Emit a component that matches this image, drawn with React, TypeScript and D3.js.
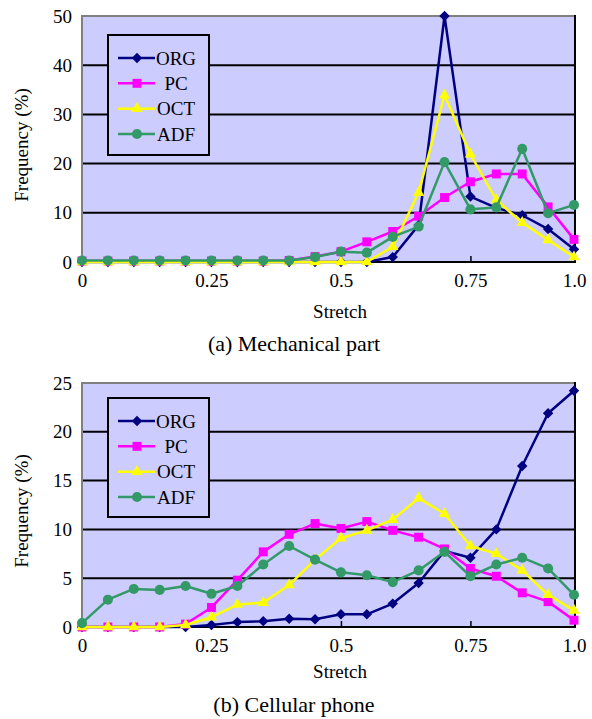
import React, { useEffect, useRef } from "react";
import * as d3 from "d3";

// stretch categories (20 bins), the last bin is labelled "1.0" on the axis
const stretch = [0, 0.05, 0.1, 0.15, 0.2, 0.25, 0.3, 0.35, 0.4, 0.45, 0.5, 0.55, 0.6, 0.65, 0.7, 0.75, 0.8, 0.85, 0.9, 0.95];
const xTickValues = [0, 0.25, 0.5, 0.75, 0.95];
const xTickLabels = ["0", "0.25", "0.5", "0.75", "1.0"];

const seriesNames = ["ORG", "PC", "OCT", "ADF"];
const seriesColors = ["#000080", "#ff00ff", "#ffff00", "#339966"];
const seriesMarkers = ["diamond", "square", "triangle", "circle"];

// (a) Mechanical part
const mechORG = [0, 0, 0, 0, 0, 0, 0, 0, 0, 0, 0, 0, 1.0, 7.5, 50, 13.3, 11.0, 9.5, 6.7, 2.6];
const mechPC = [0.2, 0.2, 0.2, 0.2, 0.2, 0.2, 0.2, 0.2, 0.3, 1.1, 2.1, 4.1, 6.2, 9.3, 13.1, 16.3, 17.9, 17.9, 11.2, 4.6];
const mechOCT = [0, 0, 0, 0, 0, 0, 0, 0, 0, 0, 0, 0, 3.1, 14.1, 33.9, 21.9, 12.6, 8.0, 4.5, 1.0];
const mechADF = [0.3, 0.3, 0.3, 0.3, 0.3, 0.3, 0.3, 0.3, 0.3, 1.0, 2.1, 1.9, 5.1, 7.2, 20.3, 10.7, 11.1, 23.0, 9.9, 11.6];
const mechTicks = [0, 10, 20, 30, 40, 50];

// (b) Cellular phone
const phoneORG = [0, 0, 0, 0, 0, 0.2, 0.5, 0.6, 0.85, 0.8, 1.3, 1.3, 2.4, 4.5, 7.8, 7.1, 10.0, 16.5, 21.9, 24.2];
const phonePC = [0, 0, 0, 0, 0.3, 2.0, 4.8, 7.7, 9.5, 10.6, 10.1, 10.8, 9.9, 9.2, 8.0, 6.0, 5.2, 3.5, 2.6, 0.7];
const phoneOCT = [0, 0, 0, 0, 0.2, 1.0, 2.3, 2.5, 4.3, 6.9, 9.1, 9.9, 11.0, 13.2, 11.6, 8.3, 7.5, 5.8, 3.3, 1.7];
const phoneADF = [0.4, 2.8, 3.9, 3.8, 4.2, 3.4, 4.2, 6.4, 8.3, 6.9, 5.6, 5.3, 4.6, 5.8, 7.7, 5.2, 6.4, 7.1, 6.0, 3.3];
const phoneTicks = [0, 5, 10, 15, 20, 25];

const FONT = "'Liberation Serif', 'Times New Roman', serif";
const W = 592, H = 719;
const left = 82, right = 575;

const panels = [
  { top: 16, bottom: 262, legendTop: 35, legendH: 120, ticks: mechTicks, series: [mechORG, mechPC, mechOCT, mechADF], titleY: 318, captionY: 351, caption: "(a) Mechanical part" },
  { top: 383, bottom: 627, legendTop: 398, legendH: 119, ticks: phoneTicks, series: [phoneORG, phonePC, phoneOCT, phoneADF], titleY: 678, captionY: 712, caption: "(b) Cellular phone" },
];

function marker(type: string) {
  if (type === "diamond") return "M0,-5.2L5.2,0L0,5.2L-5.2,0Z";
  if (type === "square") return d3.symbol(d3.symbolSquare, 80)();
  if (type === "triangle") return d3.symbol(d3.symbolTriangle, 56)();
  return d3.symbol(d3.symbolCircle, 80)();
}

function drawPanel(svg: any, p: any) {
  const g = svg.append("g");
  const yMax = d3.max(p.ticks) as number;
  const x = d3.scaleLinear().domain([0, 0.95]).range([left, right - 1]);
  const y = d3.scaleLinear().domain([0, yMax]).range([p.bottom, p.top]);

  g.append("rect")
    .attr("x", left).attr("y", p.top)
    .attr("width", right - left).attr("height", p.bottom - p.top)
    .attr("fill", "#ccccff");

  g.selectAll(".grid")
    .data(p.ticks.filter((t: number) => t > 0 && t < yMax))
    .join("line")
    .attr("class", "grid")
    .attr("x1", left).attr("x2", right)
    .attr("y1", (d: number) => y(d)).attr("y2", (d: number) => y(d))
    .attr("stroke", "#000").attr("stroke-width", 2);

  // plot frame: grey top/left, black right
  g.append("path")
    .attr("d", `M${left},${p.bottom}V${p.top}H${right}`)
    .attr("fill", "none").attr("stroke", "#808080").attr("stroke-width", 2);
  g.append("line")
    .attr("x1", right).attr("x2", right).attr("y1", p.top - 1).attr("y2", p.bottom)
    .attr("stroke", "#000").attr("stroke-width", 2);

  // y axis labels
  const yAxis = g.append("g")
    .attr("transform", `translate(${left},0)`)
    .call(d3.axisLeft(y).tickValues(p.ticks).tickSize(0).tickPadding(10));
  yAxis.select(".domain").remove();
  yAxis.selectAll("text").attr("font-size", 19).attr("font-family", FONT).attr("fill", "#000");

  // x axis
  const xAxis = g.append("g")
    .attr("transform", `translate(0,${p.bottom})`)
    .call(
      d3.axisBottom(x)
        .tickValues(xTickValues)
        .tickFormat((d: any, i: number) => xTickLabels[i])
        .tickSizeInner(-6)
        .tickSizeOuter(0)
        .tickPadding(12)
    );
  xAxis.select(".domain").attr("stroke", "#000").attr("stroke-width", 2)
    .attr("d", `M${left},0H${right + 1}`);
  xAxis.selectAll(".tick line").attr("stroke", "#000").attr("stroke-width", 1.5)
    .attr("display", (d: number, i: number) => (i === 0 || i === xTickValues.length - 1 ? "none" : null));
  xAxis.selectAll("text").attr("font-size", 19).attr("font-family", FONT).attr("fill", "#000");

  // series
  const line = d3.line<number>().x((d, i) => x(stretch[i])).y((d) => y(d));
  p.series.forEach((values: number[], k: number) => {
    g.append("path")
      .datum(values)
      .attr("d", line)
      .attr("fill", "none")
      .attr("stroke", seriesColors[k])
      .attr("stroke-width", 2.5)
      .attr("stroke-linejoin", "round");
    g.selectAll(".m" + k)
      .data(values)
      .join("path")
      .attr("class", "m" + k)
      .attr("transform", (d: number, i: number) => `translate(${x(stretch[i])},${y(d)})`)
      .attr("d", marker(seriesMarkers[k]))
      .attr("fill", seriesColors[k]);
  });

  // legend
  const lg = g.append("g").attr("transform", `translate(108,${p.legendTop})`);
  lg.append("rect")
    .attr("width", 101).attr("height", p.legendH)
    .attr("fill", "#ccccff").attr("stroke", "#000").attr("stroke-width", 2);
  const rowY = d3.scalePoint().domain(seriesNames).range([23, 99]);
  seriesNames.forEach((name, k) => {
    const ry = rowY(name) as number;
    lg.append("line")
      .attr("x1", 10).attr("x2", 47).attr("y1", ry).attr("y2", ry)
      .attr("stroke", seriesColors[k]).attr("stroke-width", 2.5);
    lg.append("path")
      .attr("transform", `translate(29,${ry})`)
      .attr("d", marker(seriesMarkers[k]))
      .attr("fill", seriesColors[k]);
    lg.append("text")
      .attr("x", 68).attr("y", ry + 6.5)
      .attr("text-anchor", "middle")
      .attr("font-size", 19).attr("font-family", FONT)
      .text(name);
  });

  // axis titles
  g.append("text")
    .attr("transform", `translate(28,${(p.top + p.bottom) / 2 + 6}) rotate(-90)`)
    .attr("text-anchor", "middle")
    .attr("font-size", 19).attr("font-family", FONT)
    .text("Frequency (%)");
  g.append("text")
    .attr("x", 340).attr("y", p.titleY)
    .attr("text-anchor", "middle")
    .attr("font-size", 19).attr("font-family", FONT)
    .text("Stretch");
  g.append("text")
    .attr("x", 294).attr("y", p.captionY)
    .attr("text-anchor", "middle")
    .attr("font-size", 22).attr("font-family", FONT)
    .text(p.caption);
}

export default function App() {
  const ref = useRef<SVGSVGElement>(null);

  useEffect(() => {
    const svg = d3.select(ref.current);
    svg.selectAll("*").remove();
    panels.forEach((p) => drawPanel(svg, p));
  }, []);

  return (
    <svg
      ref={ref}
      width={W}
      height={H}
      style={{ position: "absolute", left: 0, top: 0, background: "#fff" }}
    />
  );
}
